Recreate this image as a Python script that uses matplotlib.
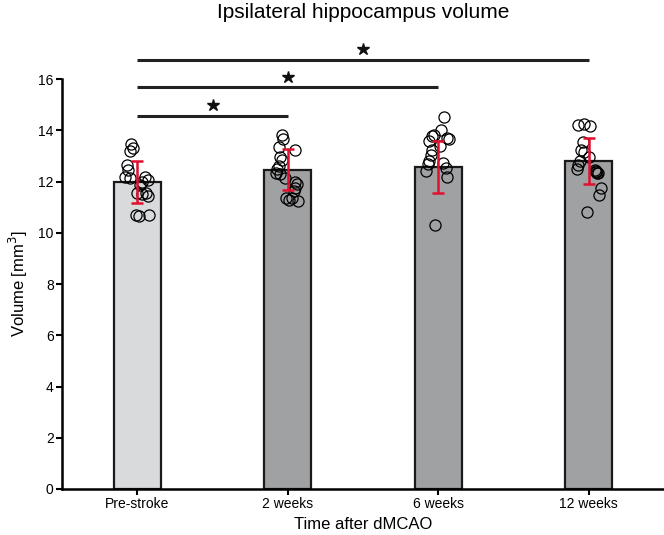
import matplotlib
matplotlib.use("Agg")
import matplotlib.pyplot as plt
import numpy as np

plt.rcParams['font.family'] = ['Liberation Sans', 'DejaVu Sans']

groups = ['Pre-stroke', '2 weeks', '6 weeks', '12 weeks']
means = [11.97, 12.46, 12.57, 12.81]
sds = [0.82, 0.80, 1.03, 0.90]
bar_colors = ['#d9dadc', '#a0a1a3', '#a0a1a3', '#a0a1a3']

# individual animals: values and small horizontal jitter (in bar units)
pre_vals = [13.45, 13.3, 13.2, 12.65, 12.45, 12.2, 12.15, 12.2, 12.05, 12.0,
            11.85, 11.55, 11.5, 11.55, 11.45, 10.7, 10.65, 10.7]
pre_jit = [-0.04, -0.03, -0.045, -0.07, -0.06, -0.08, -0.05, 0.05, 0.07, 0.03,
           0.02, 0.0, 0.03, 0.06, 0.07, -0.01, 0.01, 0.08]
w2_vals = [13.83, 13.65, 13.35, 13.25, 12.95, 12.85, 12.6, 12.5, 12.35, 12.3,
           12.15, 12.0, 11.9, 11.75, 11.65, 11.35, 11.3, 11.35, 11.25]
w2_jit = [-0.04, -0.03, -0.06, 0.05, -0.05, -0.04, -0.06, -0.07, -0.08, -0.05,
          -0.02, 0.05, 0.06, 0.05, 0.04, -0.01, 0.01, 0.03, 0.07]
w6_vals = [14.54, 14.0, 13.82, 13.78, 13.7, 13.65, 13.58, 13.4, 13.25, 13.05,
           12.8, 12.7, 12.72, 12.55, 12.4, 12.2, 10.3]
w6_jit = [0.04, 0.02, -0.03, -0.04, 0.06, 0.07, -0.06, 0.01, -0.04, -0.05,
          -0.06, -0.07, 0.03, 0.05, -0.08, 0.06, -0.02]
w12_vals = [14.22, 14.26, 14.18, 13.55, 13.25, 13.15, 12.95, 12.8, 12.65, 12.5,
            12.45, 12.38, 12.35, 12.32, 12.4, 11.75, 11.48, 10.8]
w12_jit = [-0.07, -0.03, 0.01, -0.04, -0.05, -0.03, 0.0, -0.06, -0.07, -0.08,
           0.04, 0.05, 0.06, 0.055, 0.045, 0.08, 0.07, -0.01]

points = [(pre_vals, pre_jit), (w2_vals, w2_jit), (w6_vals, w6_jit), (w12_vals, w12_jit)]

# significance brackets: (from group, to group, line height)
brackets = [(0, 1, 14.57), (0, 2, 15.68), (0, 3, 16.76)]

fig = plt.figure(figsize=(6.64, 5.35), dpi=100)
ax = fig.add_axes([0.0934, 0.086, 0.9066, 0.766])

x = np.arange(len(groups))
ax.bar(x, means, width=0.31, color=bar_colors, edgecolor='#1a1a1a', linewidth=1.6, zorder=1)

for i, (vals, jit) in enumerate(points):
    ax.plot(i + np.array(jit), vals, 'o', ms=8, mfc='none', mec='black', mew=0.9,
            zorder=3, clip_on=False)

ax.errorbar(x, means, yerr=sds, fmt='none', ecolor='#e0102e', elinewidth=1.8,
            capsize=4, capthick=1.8, zorder=4)

for a, b, h in brackets:
    ax.plot([a, b], [h, h], color='#222222', lw=2.2, clip_on=False, solid_capstyle='butt')
    ax.plot((a + b) / 2, h + 0.42, marker='*', color='#111111', ms=9, clip_on=False)

ax.set_xlim(-0.5, 3.5)
ax.set_ylim(0, 16)
ax.set_yticks(range(0, 17, 2))
ax.set_xticks(x)
ax.set_xticklabels(groups)
ax.tick_params(axis='both', labelsize=10, width=1.5, length=4, direction='out', pad=2)

for side in ['top', 'right']:
    ax.spines[side].set_visible(False)
for side in ['left', 'bottom']:
    ax.spines[side].set_linewidth(1.8)

ax.set_xlabel('Time after dMCAO', fontsize=12, labelpad=4)
ax.set_ylabel('Volume [mm$^3$]', fontsize=12, labelpad=6)
fig.text(0.547, 0.977, 'Ipsilateral hippocampus volume', fontsize=15, ha='center', va='center')

fig.savefig('out.png', dpi=100)
